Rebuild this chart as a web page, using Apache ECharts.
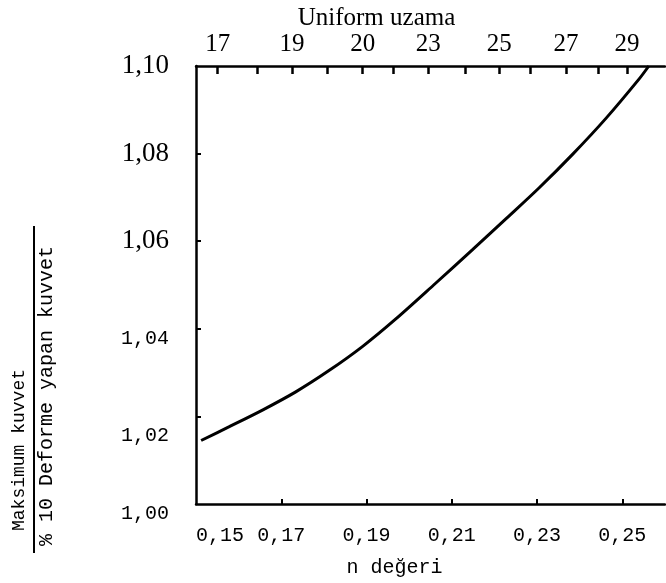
<!DOCTYPE html>
<html>
<head>
<meta charset="utf-8">
<script src="https://cdn.jsdelivr.net/npm/echarts@6/dist/echarts.min.js"></script>
<style>html,body{margin:0;padding:0;background:#fff;}#c{width:666px;height:583px;}</style>
</head>
<body>
<div id="c"></div>
<script>
// n values (bottom axis) and force ratio (left axis)
var nValues = [0.1512, 0.1577, 0.1657, 0.1734, 0.1811, 0.1891, 0.1968, 0.2062, 0.2148, 0.2228, 0.2305, 0.2382, 0.2462, 0.2539, 0.2562];
var ratioValues = [1.0145, 1.0176, 1.0215, 1.0256, 1.0304, 1.0360, 1.0422, 1.0504, 1.0580, 1.0652, 1.0722, 1.0797, 1.0881, 1.0970, 1.1000];

// bottom axis labels / ticks
var bottomLabels = [0.15, 0.17, 0.19, 0.21, 0.23, 0.25];
var bottomTicks = [0.17, 0.19, 0.21, 0.23, 0.25];

// left axis labels / ticks
var leftLabels = [1.00, 1.02, 1.04, 1.06, 1.08, 1.10];
var leftTicks = [1.02, 1.04, 1.06, 1.08];

// top axis: uniform elongation labels and the n value where each sits
var topLabelText = ['17', '19', '20', '23', '25', '27', '29'];
var topLabelN = [0.1551, 0.1725, 0.1891, 0.2045, 0.2211, 0.2368, 0.2511];
var topTickN = [0.1551, 0.1643, 0.1725, 0.1807, 0.1891, 0.1963, 0.2045, 0.2132, 0.2211, 0.2284, 0.2368, 0.2443, 0.2511];

var curve = nValues.map(function (n, i) { return [n, ratioValues[i]]; });

function comma(v, d) { return v.toFixed(d).replace('.', ','); }
function topLabel(v) {
  var best = 0, bd = Infinity;
  for (var i = 0; i < topLabelN.length; i++) {
    var d = Math.abs(topLabelN[i] - v);
    if (d < bd) { bd = d; best = i; }
  }
  return topLabelText[best];
}

var mono = '"Liberation Mono", "DejaVu Sans Mono", monospace';
var serif = '"Liberation Serif", "DejaVu Serif", serif';

var chart = echarts.init(document.getElementById('c'), null, {renderer: 'canvas'});
chart.setOption({
  backgroundColor: '#fff',
  animation: false,
  grid: {left: 196, right: 1, top: 66, bottom: 79, containLabel: false, outerBoundsMode: 'none'},
  xAxis: [
    {
      type: 'value', position: 'bottom', min: 0.15, max: 0.26,
      name: 'n değeri', nameLocation: 'middle', nameGap: 54,
      nameTextStyle: {fontFamily: mono, fontSize: 20, color: '#000', padding: [0, 72, 0, 0]},
      axisLine: {show: true, onZero: false, lineStyle: {color: '#000', width: 2.5}},
      axisTick: {show: true, inside: true, length: 5, customValues: bottomTicks, lineStyle: {color: '#000', width: 2}},
      axisLabel: {
        show: true, customValues: bottomLabels, margin: 22, alignMinLabel: 'left',
        fontFamily: mono, fontSize: 20, color: '#000',
        formatter: function (v) { return comma(v, 2); }
      },
      splitLine: {show: false}
    },
    {
      type: 'value', position: 'top', min: 0.15, max: 0.26,
      name: 'Uniform uzama', nameLocation: 'middle', nameGap: 35, nameMoveOverlap: false,
      nameTextStyle: {fontFamily: serif, fontSize: 25, color: '#000', padding: [0, 108, 0, 0]},
      axisLine: {show: true, onZero: false, lineStyle: {color: '#000', width: 2.5}},
      axisTick: {show: true, inside: true, length: 8, customValues: topTickN, lineStyle: {color: '#000', width: 2.5}},
      axisLabel: {
        show: true, customValues: topLabelN, margin: 9,
        fontFamily: serif, fontSize: 25, color: '#000',
        formatter: function (v) { return topLabel(v); }
      },
      splitLine: {show: false}
    }
  ],
  yAxis: {
    type: 'value', min: 1.00, max: 1.10,
    axisLine: {show: true, onZero: false, lineStyle: {color: '#000', width: 2.5}},
    axisTick: {show: true, inside: true, length: 5, customValues: leftTicks, lineStyle: {color: '#000', width: 2}},
    axisLabel: {
      show: true, customValues: leftLabels, margin: 27, color: '#000',
      formatter: function (v) {
        var s = comma(v, 2);
        if (v > 1.05) return '{s|' + s + '}';
        if (v < 1.01) return '{m0|' + s + '}';
        if (v < 1.03) return '{m2|' + s + '}';
        return '{m4|' + s + '}';
      },
      rich: {
        s: {fontFamily: serif, fontSize: 27, color: '#000'},
        m4: {fontFamily: mono, fontSize: 20, color: '#000', padding: [20, 0, 0, 0]},
        m2: {fontFamily: mono, fontSize: 20, color: '#000', padding: [38, 0, 0, 0]},
        m0: {fontFamily: mono, fontSize: 20, color: '#000', padding: [20, 0, 0, 0]}
      }
    },
    splitLine: {show: false}
  },
  graphic: [
    {
      type: 'text', x: 19, y: 450, rotation: Math.PI / 2,
      style: {text: 'Maksimum kuvvet', fontFamily: mono, fontSize: 18, fill: '#000', align: 'center', verticalAlign: 'middle'}
    },
    {
      type: 'line', shape: {x1: 34, y1: 226, x2: 34, y2: 553},
      style: {stroke: '#000', lineWidth: 2}
    },
    {
      type: 'text', x: 47, y: 396, rotation: Math.PI / 2,
      style: {text: '% 10 Deforme yapan kuvvet', fontFamily: mono, fontSize: 20, fill: '#000', align: 'center', verticalAlign: 'middle'}
    }
  ],
  series: [{
    type: 'line', xAxisIndex: 0, yAxisIndex: 0,
    data: curve, smooth: 0.3, symbol: 'none',
    lineStyle: {color: '#000', width: 3}
  }]
});
</script>
</body>
</html>
